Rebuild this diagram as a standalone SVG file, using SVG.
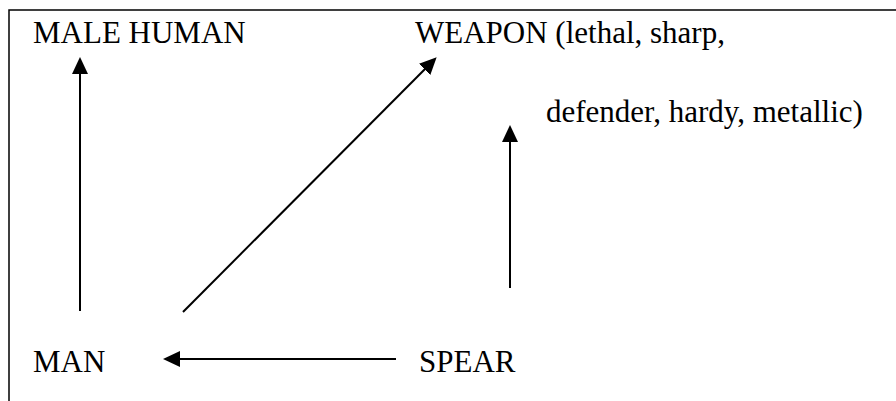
<svg xmlns="http://www.w3.org/2000/svg" width="896" height="401" viewBox="0 0 896 401">
  <style>
    .lbl { font-family: "Liberation Serif", "Times New Roman", serif; font-size: 31px; fill: #000; }
    .edge { stroke: #000; stroke-width: 2; fill: none; marker-end: url(#arrow); }
  </style>
  <defs>
    <marker id="arrow" markerUnits="userSpaceOnUse" markerWidth="17" markerHeight="16" refX="9" refY="8" orient="auto">
      <path d="M0,0 L17,8 L0,16 z" fill="#000"/>
    </marker>
  </defs>
  <rect x="0" y="0" width="896" height="401" fill="#fff"/>
  <rect x="9" y="10" width="900" height="400" fill="none" stroke="#000" stroke-width="1.5"/>

  <g id="male-human"><text class="lbl" x="33" y="43">MALE HUMAN</text></g>
  <g id="weapon">
    <text class="lbl" x="415" y="43">WEAPON (lethal, sharp,</text>
    <text class="lbl" x="546" y="122">defender, hardy, metallic)</text>
  </g>
  <g id="man"><text class="lbl" x="33" y="372">MAN</text></g>
  <g id="spear"><text class="lbl" x="419" y="372">SPEAR</text></g>

  <g id="connectors">
    <line class="edge" x1="80" y1="311" x2="80" y2="65"/>
    <line class="edge" x1="183" y1="312" x2="431" y2="63"/>
    <line class="edge" x1="510" y1="288" x2="510" y2="133"/>
    <line class="edge" x1="396" y1="359" x2="171" y2="359"/>
  </g>
</svg>
